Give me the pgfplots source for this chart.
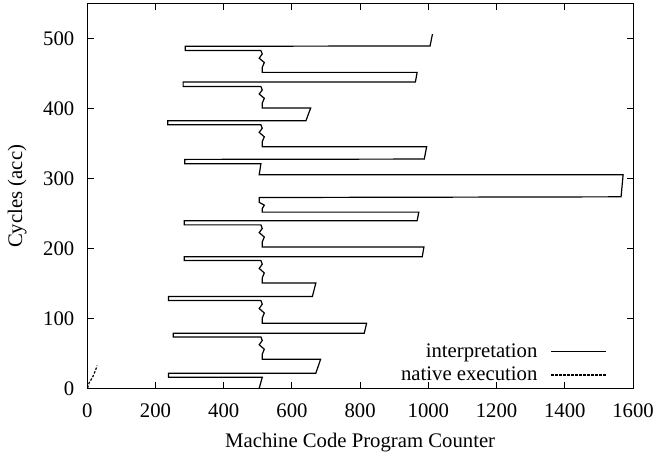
\documentclass[border=0pt]{standalone}
\usepackage{fontspec}
\setmainfont{Liberation Serif}
\usepackage{pgfplots}
\pgfplotsset{compat=1.18}
\usetikzlibrary{calc}
\begin{document}
\begin{tikzpicture}
\begin{axis}[
  name=ax,
  scale only axis,
  width=272.85bp, height=192.35bp,
  xmin=0, xmax=1600, ymin=0, ymax=550,
  xtick={0,200,...,1600}, ytick={0,100,...,500},
  tick align=inside, tick pos=both,
  major tick length=3.2bp,
  axis line style={line width=0.5bp},
  every tick/.style={black, line width=0.5bp},
  /pgf/number format/assume math mode=true,
  /pgf/number format/set thousands separator={},
  font=\fontsize{10.4}{12}\selectfont,
  xlabel={Machine Code Program Counter},
  ylabel={Cycles (acc)},
  xlabel style={yshift=-1bp},
  ylabel style={yshift=1.5bp},
  xticklabel style={yshift=-4bp},
  yticklabel style={xshift=-3bp},
  legend plot pos=right,
  legend cell align=right,
  legend style={draw=none, fill=none, at={(rel axis cs:1,0)}, anchor=south east,
    xshift=-10bp, yshift=-1.5bp, row sep=-0.8bp, font=\fontsize{10.4}{12}\selectfont},
  legend image code/.code={\path (0bp,0bp); \draw[#1] (4.7bp,0bp) -- (32bp,0bp);},
]
% interpretation trace (pc, accumulated cycles)
\addplot[black, line width=0.6bp] coordinates {
  (504,0.5) (513,16.3)
  (238,16.3) (238,22) (670,22) (684,42)
  (513,42) (513,49.4) (519,56.4) (504,62.8) (513,68.9) (509,74)
  (252,74) (252,79.3) (812,79.3) (819,93.6)
  (513,93.6) (513,101) (519,108.2) (504,114.7) (513,120.8) (509,126)
  (238,126) (238,131.7) (660,131.7) (670,151)
  (513,151) (513,158.4) (519,165.5) (504,171.9) (513,178) (509,183.2)
  (284,183.2) (284,188.5) (982,188.5) (987,202.5)
  (513,202.5) (513,209.8) (519,216.8) (504,223.1) (513,229.1) (509,234.2)
  (284,234.2) (284,240) (967,240) (972,252.4)
  (513,252.4) (513,257.4) (519,262.4) (504,266.4) (504,273.3)
  (1565,274.3) (1571,305.8)
  (504,305.8) (509,321.6)
  (286,321.6) (286,327.8) (988,328.3) (995,346)
  (513,346) (513,353.2) (519,360.1) (504,366.4) (513,372.4) (509,377.4)
  (236,377.4) (236,383) (641,383) (655,401.4)
  (513,401.4) (513,408.4) (519,415.2) (504,421.3) (513,427.1) (509,432)
  (281,432) (281,438.4) (962,438.4) (967,452.2)
  (513,452.2) (513,459.4) (519,466.3) (504,472.5) (513,478.5) (509,483.5)
  (287,483.5) (287,489.5) (1005,490) (1012,507)
};
\addlegendentry{interpretation}
% native execution
\addplot[black, line width=0.6bp, dash pattern=on 1.2bp off 0.8bp] coordinates {
  (1,1) (5,8) (11,13) (17,18) (23,25) (29,33)
};
\addlegendentry{native execution}
\end{axis}
\path (ax.south west) ++(-43.65bp,-32.15bp) coordinate (bbl);
\path (ax.north east) ++(11bp,2bp) coordinate (btr);
\pgfresetboundingbox
\path (bbl) rectangle (btr);
\end{tikzpicture}
\end{document}
